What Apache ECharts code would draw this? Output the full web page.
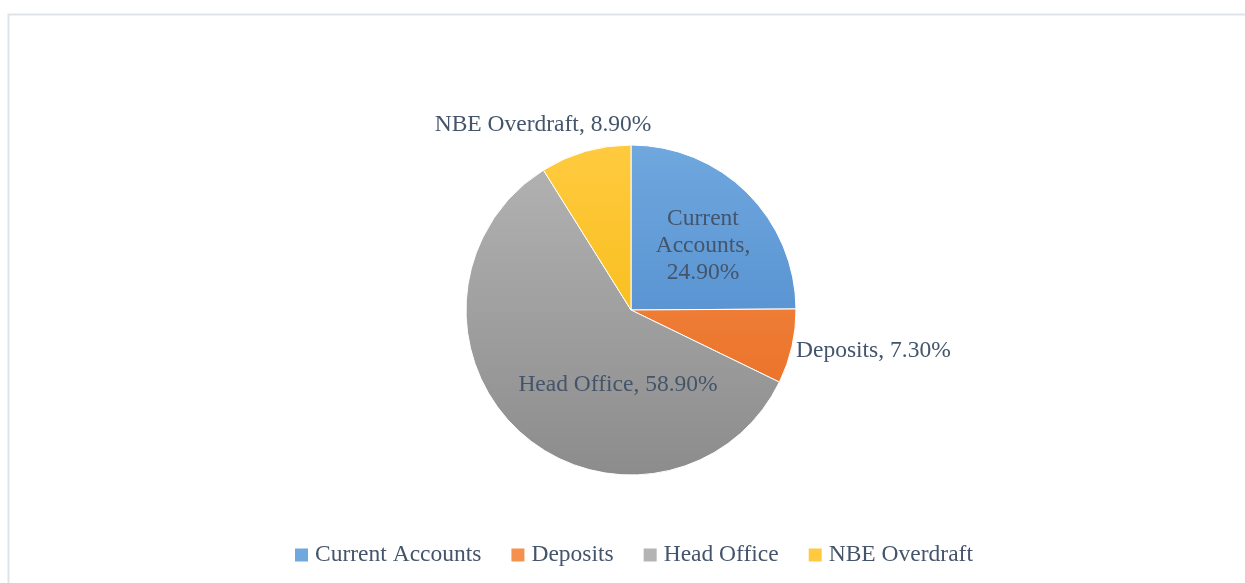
<!DOCTYPE html>
<html>
<head>
<meta charset="utf-8">
<script src="https://cdn.jsdelivr.net/npm/echarts@6/dist/echarts.min.js"></script>
<style>
  html, body { margin: 0; padding: 0; background: #fff; }
  #chart { width: 1245px; height: 583px; }
</style>
</head>
<body>
<div id="chart"></div>
<script>
const categories = ['Current Accounts', 'Deposits', 'Head Office', 'NBE Overdraft']
const shares = [24.9, 7.3, 58.9, 8.9]

// light (top) / dark (bottom) stops for each slice
const Colors = [
  ['#6fa7de', '#4683c7'],
  ['#f5904f', '#e8691c'],
  ['#b4b4b4', '#8c8c8c'],
  ['#ffca3f', '#f2b600']
]

const textColor = '#44546a'
const fontFamily = '"Liberation Serif", "Times New Roman", serif'

var myChart = echarts.init(document.getElementById('chart'), null, { renderer: 'canvas' })

const center = [631, 310]
const radius = 165

var option = {
  animation: false,
  graphic: [{
    type: 'rect',
    shape: { x: 8.5, y: 14.5, width: 1400, height: 800 },
    style: { fill: 'none', stroke: '#dfe3ea', lineWidth: 2 },
    silent: true
  }],
  legend: {
    bottom: 11,
    left: 290,
    icon: 'rect',
    itemWidth: 13,
    itemHeight: 13,
    itemGap: 30,
    itemStyle: { borderWidth: 0 },
    textStyle: {
      color: textColor,
      fontFamily: fontFamily,
      fontSize: 23.5,
      padding: [0, 0, 0, 2]
    },
    data: categories
  },
  series: [{
    type: 'pie',
    center: center,
    radius: radius,
    startAngle: 90,
    clockwise: true,
    itemStyle: { borderColor: '#fff', borderWidth: 1 },
    labelLine: { show: false },
    label: {
      color: textColor,
      fontFamily: fontFamily,
      fontSize: 23.5,
      lineHeight: 27,
      formatter: function (p) {
        if (p.dataIndex === 0) return 'Current\nAccounts,\n' + p.value.toFixed(2) + '%'
        return p.name + ', ' + p.value.toFixed(2) + '%'
      }
    },
    labelLayout: function (p) {
      // label anchor spots as in the reference
      var spots = [
        { x: 703, y: 246, align: 'center' },
        { x: 796, y: 351, align: 'left' },
        { x: 618, y: 385, align: 'center' },
        { x: 543, y: 125, align: 'center' }
      ]
      var s = spots[p.dataIndex]
      return { x: s.x, y: s.y, align: s.align, verticalAlign: 'middle' }
    },
    data: categories.map(function (name, i) {
      return {
        name: name,
        value: shares[i],
        label: { position: (i === 0 || i === 2) ? 'inside' : 'outside' },
        itemStyle: {
          color: new echarts.graphic.LinearGradient(0, center[1] - radius, 0, center[1] + radius, [
            { offset: 0, color: Colors[i][0] },
            { offset: 1, color: Colors[i][1] }
          ], true)
        }
      }
    })
  }]
}

myChart.setOption(option, true)
</script>
</body>
</html>
